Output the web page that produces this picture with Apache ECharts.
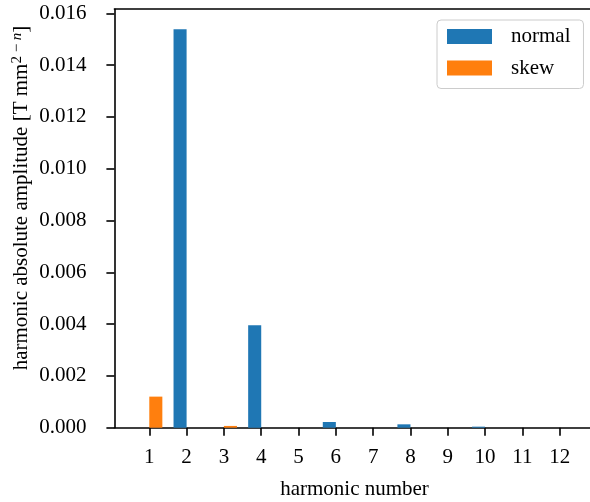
<!DOCTYPE html>
<html>
<head>
<meta charset="utf-8">
<script src="https://cdn.jsdelivr.net/npm/echarts@6/dist/echarts.min.js"></script>
<style>
html,body{margin:0;padding:0;background:#fff;}
#chart{width:590px;height:502px;}
</style>
</head>
<body>
<div id="chart"></div>
<script>
const harmonics = [1, 2, 3, 4, 5, 6, 7, 8, 9, 10, 11, 12];
const normalValues = [0, 0.01539, 0, 0.00396, 0, 0.00022, 0, 0.00013, 0, 0.00004, 0, 0];
const skewValues = [0.0012, 0, 0.000068, 0, 0, 0, 0, 0, 0, 0, 0, 0];
const xTickLabels = [1, 2, 3, 4, 5, 6, 7, 8, 9, 10, 11, 12];
const yTickLabels = [0, 0.002, 0.004, 0.006, 0.008, 0.010, 0.012, 0.014, 0.016];

const FONT = '"Liberation Serif", "Times New Roman", serif';
const BAR_W = 0.35;
const xMin = 1 - BAR_W - 0.05 * (11 + 2 * BAR_W);
const xMax = 12 + BAR_W + 0.05 * (11 + 2 * BAR_W);
const yMax = Math.max(...normalValues, ...skewValues) * 1.05;

function barRenderer(offset) {
  return function (params, api) {
    const n = api.value(0), v = api.value(1);
    const p0 = api.coord([n + offset, v]);
    const p1 = api.coord([n + offset + BAR_W, 0]);
    return {
      type: 'rect',
      shape: { x: p0[0], y: p0[1], width: p1[0] - p0[0], height: p1[1] - p0[1] },
      style: api.style()
    };
  };
}

const chart = echarts.init(document.getElementById('chart'), null, { renderer: 'canvas' });
const axisLineStyle = { color: '#000', width: 1.6 };
chart.setOption({
  animation: false,
  backgroundColor: '#fff',
  grid: { left: 114.4, right: -4.6, top: 9.2, bottom: 74.3, containLabel: false, outerBoundsMode: 'none' },
  xAxis: [{
    type: 'value', min: xMin, max: xMax, position: 'bottom',
    name: 'harmonic number', nameLocation: 'middle', nameGap: 51,
    nameTextStyle: { fontFamily: FONT, fontSize: 21, color: '#000' },
    axisLine: { show: true, onZero: false, lineStyle: axisLineStyle },
    axisTick: { show: true, inside: false, length: 8, lineStyle: axisLineStyle, customValues: xTickLabels },
    axisLabel: { fontFamily: FONT, fontSize: 21, color: '#000', margin: 19, customValues: xTickLabels },
    splitLine: { show: false }
  }, {
    type: 'value', min: xMin, max: xMax, position: 'top',
    axisLine: { show: true, onZero: false, lineStyle: axisLineStyle },
    axisTick: { show: false }, axisLabel: { show: false }, splitLine: { show: false }
  }],
  yAxis: [{
    type: 'value', min: 0, max: yMax,
    axisLine: { show: true, onZero: false, lineStyle: axisLineStyle },
    axisTick: { show: true, inside: false, length: 8, lineStyle: axisLineStyle, customValues: yTickLabels },
    axisLabel: {
      fontFamily: FONT, fontSize: 21, color: '#000', margin: 28, customValues: yTickLabels,
      formatter: v => v.toFixed(3)
    },
    splitLine: { show: false }
  }],
  legend: {
    orient: 'vertical', left: 437, top: 20,
    padding: [6, 13, 10, 10],
    itemWidth: 45, itemHeight: 15, itemGap: 10.5,
    backgroundColor: 'rgba(255,255,255,0.8)',
    borderColor: '#cccccc', borderWidth: 1, borderRadius: 4,
    textStyle: { fontFamily: FONT, fontSize: 21, color: '#000', padding: [0, 0, 0, 14] },
    data: [{ name: 'normal', icon: 'rect' }, { name: 'skew', icon: 'rect' }]
  },
  graphic: [{
    type: 'text',
    x: 21, y: 198, rotation: Math.PI / 2,
    style: {
      text: '{a|harmonic absolute amplitude [T mm}{s|2 − }{i|n}{a|]}',
      align: 'center', verticalAlign: 'middle',
      fill: '#000',
      rich: {
        a: { fontFamily: FONT, fontSize: 21, lineHeight: 22, verticalAlign: 'bottom', fill: '#000' },
        s: { fontFamily: FONT, fontSize: 15, lineHeight: 15, verticalAlign: 'top', fill: '#000' },
        i: { fontFamily: FONT, fontSize: 15, lineHeight: 15, verticalAlign: 'top', fontStyle: 'italic', fill: '#000' }
      }
    }
  }],
  series: [{
    name: 'normal', type: 'custom',
    itemStyle: { color: '#1f77b4' },
    renderItem: barRenderer(-BAR_W),
    encode: { x: 0, y: 1 },
    data: harmonics.map((h, i) => [h, normalValues[i]])
  }, {
    name: 'skew', type: 'custom',
    itemStyle: { color: '#ff7f0e' },
    renderItem: barRenderer(0),
    encode: { x: 0, y: 1 },
    data: harmonics.map((h, i) => [h, skewValues[i]])
  }]
});
</script>
</body>
</html>
